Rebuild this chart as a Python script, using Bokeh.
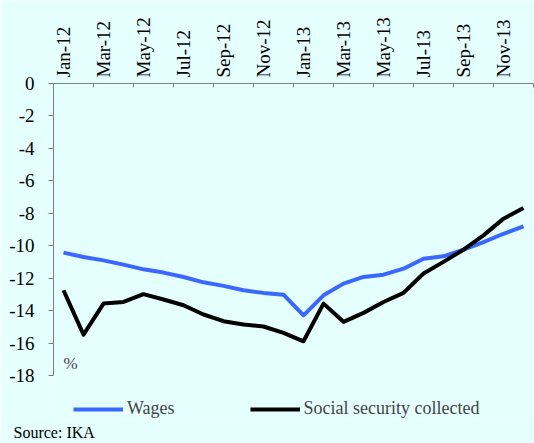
from bokeh.plotting import figure
from bokeh.models import Range1d, FixedTicker, Legend, LegendItem, Label, Title
from bokeh.embed import file_html
from bokeh.resources import INLINE

months = ["Jan-12", "Feb-12", "Mar-12", "Apr-12", "May-12", "Jun-12", "Jul-12", "Aug-12",
          "Sep-12", "Oct-12", "Nov-12", "Dec-12", "Jan-13", "Feb-13", "Mar-13", "Apr-13",
          "May-13", "Jun-13", "Jul-13", "Aug-13", "Sep-13", "Oct-13", "Nov-13", "Dec-13"]
wages = [-10.41, -10.68, -10.89, -11.15, -11.44, -11.64, -11.91, -12.24, -12.46, -12.73,
         -12.89, -13.0, -14.27, -13.04, -12.32, -11.91, -11.77, -11.40, -10.79, -10.64,
         -10.23, -9.76, -9.25, -8.80]
social = [-12.73, -15.46, -13.55, -13.45, -12.97, -13.30, -13.65, -14.22, -14.63, -14.84,
          -14.96, -15.35, -15.87, -13.55, -14.67, -14.12, -13.45, -12.89, -11.70, -10.98,
          -10.23, -9.35, -8.32, -7.66]
y_ticks = [0, -2, -4, -6, -8, -10, -12, -14, -16, -18]

FONT = "Liberation Serif"
BG = "#E5FFFF"
x = list(range(len(months)))

TOP, BOTTOM = 83, 24
px_per_unit = 292.4 / 18
y_start = -(443 - TOP - BOTTOM) / px_per_unit

p = figure(width=534, height=443, output_backend="svg", toolbar_location=None,
           x_range=Range1d(-0.5, len(months) - 0.5), y_range=Range1d(y_start, 0),
           x_axis_location="above", min_border_left=53, min_border_top=TOP,
           min_border_bottom=BOTTOM, min_border_right=1)
p.background_fill_color = BG
p.border_fill_color = BG
p.outline_line_color = None
p.xgrid.grid_line_color = None
p.ygrid.grid_line_color = None

xa = p.xaxis[0]
major = x[::2]
xa.ticker = FixedTicker(ticks=major, minor_ticks=[i - 0.5 for i in range(0, len(months) + 1, 2)])
xa.major_label_overrides = {i: months[i] for i in major}
xa.major_label_orientation = "vertical"
xa.major_tick_line_color = None
xa.minor_tick_line_color = "#808080"
xa.minor_tick_in = 4
xa.minor_tick_out = 0
xa.axis_line_color = "#808080"
xa.major_label_text_font = FONT
xa.major_label_text_font_size = "19px"
xa.major_label_text_color = "black"
xa.major_label_standoff = 0

ya = p.yaxis[0]
ya.ticker = FixedTicker(ticks=y_ticks)
ya.bounds = (min(y_ticks), max(y_ticks))
ya.major_label_overrides = {t: str(t) for t in y_ticks}
ya.axis_line_color = "#808080"
ya.major_tick_line_color = "#808080"
ya.major_tick_in = 0
ya.major_tick_out = 5
ya.minor_tick_line_color = None
ya.major_label_text_font = FONT
ya.major_label_text_font_size = "19px"
ya.major_label_text_color = "black"
ya.major_label_standoff = 14

r1 = p.line(x, wages, line_color="#3A68FF", line_width=4, line_join="round")
r2 = p.line(x, social, line_color="black", line_width=4, line_join="round")

legend = Legend(items=[LegendItem(label="Wages", renderers=[r1]),
                       LegendItem(label="Social security collected", renderers=[r2])],
                orientation="horizontal", location=(20, 0),
                background_fill_alpha=0, border_line_color=None,
                label_text_font=FONT, label_text_font_size="18px",
                glyph_width=50, label_standoff=4, spacing=75, padding=0, margin=0,
                label_height=18, glyph_height=18)
p.add_layout(legend, "center")

p.add_layout(Label(x=0, y=-17.25, text="%", text_font=FONT, text_font_size="17px",
                   text_baseline="alphabetic"))

src = Title(text="Source: IKA", align="left", offset=-40, standoff=5,
            vertical_align="bottom", text_font=FONT, text_font_size="16px",
            text_font_style="normal", text_color="black")
p.add_layout(src, "below")

open("out.html", "w").write(file_html(p, INLINE))
